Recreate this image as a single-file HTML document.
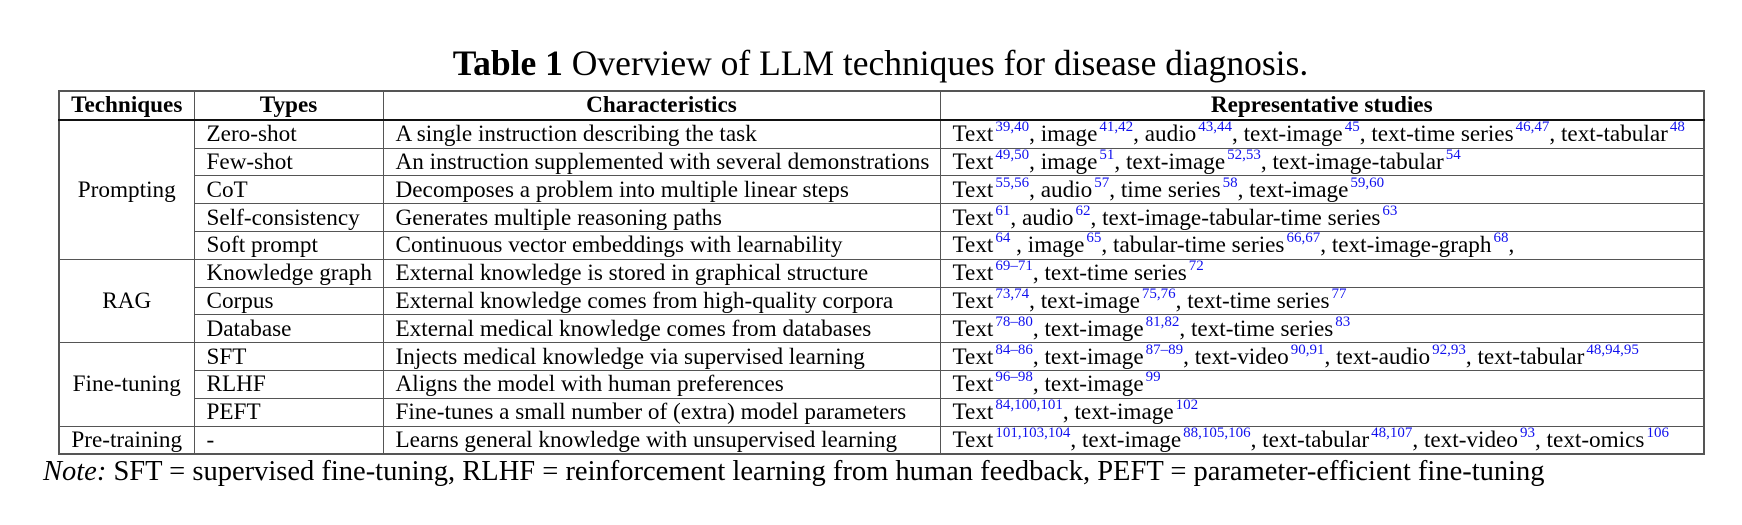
<!DOCTYPE html>
<html><head><meta charset="utf-8">
<style>
html,body{margin:0;padding:0;background:#fff;}
body{width:1742px;height:525px;position:relative;overflow:hidden;font-family:"Liberation Serif","DejaVu Serif",serif;color:#000;}
.title{position:absolute;left:0;width:1761px;top:43px;text-align:center;font-size:35.5px;line-height:41px;white-space:nowrap;}
table{position:absolute;left:58px;top:90px;border-collapse:collapse;table-layout:fixed;font-size:23.2px;border:2px solid #555;}
td,th{border:1.5px solid #555;padding:0 0 0 12px;height:26.8px;line-height:26px;white-space:nowrap;overflow:visible;vertical-align:middle;}
th{text-align:center;padding:0;font-weight:bold;border-bottom:2px solid #111;}
td.c{text-align:center;padding:0;}
sup{font-size:15px;color:#1010ee;vertical-align:baseline;position:relative;top:-10px;margin-left:2px;line-height:0;}
.note{position:absolute;left:43px;top:455px;font-size:28.5px;line-height:33px;white-space:nowrap;}
</style></head><body>
<div class="title"><b>Table 1</b> Overview of LLM techniques for disease diagnosis.</div>
<table>
<colgroup><col style="width:135px"><col style="width:189px"><col style="width:557px"><col style="width:764px"></colgroup>
<tr><th>Techniques</th><th>Types</th><th>Characteristics</th><th>Representative studies</th></tr>
<tr><td class="c" rowspan="5">Prompting</td><td>Zero-shot</td><td>A single instruction describing the task</td><td>Text<sup>39,40</sup>, image<sup>41,42</sup>, audio<sup>43,44</sup>, text-image<sup>45</sup>, text-time series<sup>46,47</sup>, text-tabular<sup>48</sup></td></tr>
<tr><td>Few-shot</td><td>An instruction supplemented with several demonstrations</td><td>Text<sup>49,50</sup>, image<sup>51</sup>, text-image<sup>52,53</sup>, text-image-tabular<sup>54</sup></td></tr>
<tr><td>CoT</td><td>Decomposes a problem into multiple linear steps</td><td>Text<sup>55,56</sup>, audio<sup>57</sup>, time series<sup>58</sup>, text-image<sup>59,60</sup></td></tr>
<tr><td>Self-consistency</td><td>Generates multiple reasoning paths</td><td>Text<sup>61</sup>, audio<sup>62</sup>, text-image-tabular-time series<sup>63</sup></td></tr>
<tr><td>Soft prompt</td><td>Continuous vector embeddings with learnability</td><td>Text<sup>64</sup> , image<sup>65</sup>, tabular-time series<sup>66,67</sup>, text-image-graph<sup>68</sup>,</td></tr>
<tr><td class="c" rowspan="3">RAG</td><td>Knowledge graph</td><td>External knowledge is stored in graphical structure</td><td>Text<sup>69–71</sup>, text-time series<sup>72</sup></td></tr>
<tr><td>Corpus</td><td>External knowledge comes from high-quality corpora</td><td>Text<sup>73,74</sup>, text-image<sup>75,76</sup>, text-time series<sup>77</sup></td></tr>
<tr><td>Database</td><td>External medical knowledge comes from databases</td><td>Text<sup>78–80</sup>, text-image<sup>81,82</sup>, text-time series<sup>83</sup></td></tr>
<tr><td class="c" rowspan="3">Fine-tuning</td><td>SFT</td><td>Injects medical knowledge via supervised learning</td><td>Text<sup>84–86</sup>, text-image<sup>87–89</sup>, text-video<sup>90,91</sup>, text-audio<sup>92,93</sup>, text-tabular<sup>48,94,95</sup></td></tr>
<tr><td>RLHF</td><td>Aligns the model with human preferences</td><td>Text<sup>96–98</sup>, text-image<sup>99</sup></td></tr>
<tr><td>PEFT</td><td>Fine-tunes a small number of (extra) model parameters</td><td>Text<sup>84,100,101</sup>, text-image<sup>102</sup></td></tr>
<tr><td class="c">Pre-training</td><td>-</td><td>Learns general knowledge with unsupervised learning</td><td>Text<sup>101,103,104</sup>, text-image<sup>88,105,106</sup>, text-tabular<sup>48,107</sup>, text-video<sup>93</sup>, text-omics<sup>106</sup></td></tr>
</table>
<div class="note"><i>Note:</i> SFT = supervised fine-tuning, RLHF = reinforcement learning from human feedback, PEFT = parameter-efficient fine-tuning</div>
</body></html>
